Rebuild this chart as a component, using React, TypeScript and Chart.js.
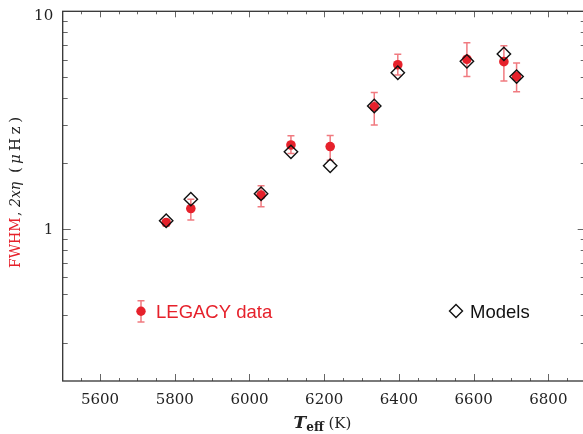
import React, { useEffect, useRef } from "react";
import { Chart, registerables } from "chart.js";

Chart.register(...registerables);

// ---- data ----
const temps = [5777, 5843, 6031, 6111, 6216, 6334, 6397, 6582, 6681, 6715];
const fwhm = [1.07, 1.24, 1.43, 2.43, 2.39, 3.64, 5.68, 6.02, 5.87, 5.01];
const errHigh = [1.1, 1.37, 1.58, 2.68, 2.69, 4.23, 6.35, 7.17, 6.95, 5.79];
const errLow = [1.03, 1.1, 1.265, 2.22, 2.07, 3.0, 5.1, 5.01, 4.78, 4.27];
const models = [1.09, 1.37, 1.45, 2.26, 1.95, 3.67, 5.22, 5.89, 6.37, 5.01];
const xTickLabels = [5600, 5800, 6000, 6200, 6400, 6600, 6800];
const yTickLabels = [1, 10];
const xRange = [5500, 6900];
const yRange = [0.2, 10];

const RED = "#e6212b";
const ERR = "rgba(230,33,43,0.6)";
const SERIF = '"DejaVu Serif"';

const CANVAS_W = 600;
const CANVAS_H = 434;

function drawSpread(ctx: CanvasRenderingContext2D, text: string, start: number, width: number) {
  const chars = Array.from(text);
  const widths = chars.map((c) => ctx.measureText(c).width);
  const total = widths.reduce((a, b) => a + b, 0);
  const gap = chars.length > 1 ? (width - total) / (chars.length - 1) : 0;
  let pos = start;
  chars.forEach((c, i) => {
    ctx.fillText(c, pos, 0);
    pos += widths[i] + gap;
  });
}

const customPlugin = {
  id: "customAxes",
  beforeDatasetsDraw(chart: any) {
    const { ctx, scales } = chart;
    const x = scales.x;
    const y = scales.y;
    ctx.save();
    ctx.strokeStyle = ERR;
    ctx.lineWidth = 1.5;
    ctx.beginPath();
    temps.forEach((t, i) => {
      const px = x.getPixelForValue(t);
      const top = y.getPixelForValue(errHigh[i]);
      const bot = y.getPixelForValue(errLow[i]);
      ctx.moveTo(px, top);
      ctx.lineTo(px, bot);
      ctx.moveTo(px - 3.5, top);
      ctx.lineTo(px + 3.5, top);
      ctx.moveTo(px - 3.5, bot);
      ctx.lineTo(px + 3.5, bot);
    });
    ctx.stroke();
    ctx.restore();
  },
  afterDraw(chart: any) {
    const { ctx, scales, chartArea } = chart;
    const x = scales.x;
    const y = scales.y;
    const L = chartArea.left;
    const R = chartArea.right;
    const T = chartArea.top;
    const B = chartArea.bottom;
    ctx.save();

    // ticks
    ctx.strokeStyle = "#666";
    ctx.lineWidth = 1;
    ctx.beginPath();
    for (let v = xRange[0] + 50; v < xRange[1]; v += 50) {
      const px = Math.round(x.getPixelForValue(v)) + 0.5;
      const major = v % 200 === 0;
      ctx.moveTo(px, B);
      ctx.lineTo(px, B - (major ? 7 : 3));
      ctx.moveTo(px, T);
      ctx.lineTo(px, T + (major ? 6 : 3));
    }
    for (const dec of [0.1, 1]) {
      for (let k = 1; k <= 9; k++) {
        const v = +(k * dec).toFixed(3);
        if (v <= yRange[0] || v >= yRange[1]) continue;
        const py = Math.round(y.getPixelForValue(v)) + 0.5;
        const major = k === 1;
        const len = major ? 8 : 5;
        ctx.moveTo(L, py);
        ctx.lineTo(L + len, py);
        ctx.moveTo(R, py);
        ctx.lineTo(R - len, py);
      }
    }
    ctx.stroke();

    // frame
    ctx.strokeStyle = "#333";
    ctx.lineWidth = 1.3;
    ctx.strokeRect(L, T, R - L, B - T);

    // tick labels
    ctx.fillStyle = "#222";
    ctx.font = `15px ${SERIF}`;
    ctx.textAlign = "center";
    ctx.textBaseline = "middle";
    xTickLabels.forEach((v) => {
      ctx.fillText(String(v), x.getPixelForValue(v), B + 19.5);
    });
    ctx.textAlign = "right";
    yTickLabels.forEach((v) => {
      const py = y.getPixelForValue(v);
      ctx.fillText(String(v), L - 9.5, Math.max(py + 1.5, T + 5));
    });

    // x title: T_eff (K)
    ctx.textAlign = "left";
    ctx.textBaseline = "alphabetic";
    const f1 = `bold italic 17px ${SERIF}`;
    const f2 = `bold 12px ${SERIF}`;
    const f3 = `15px ${SERIF}`;
    ctx.font = f1;
    const w1 = ctx.measureText("T").width;
    ctx.font = f2;
    const w2 = ctx.measureText("eff").width;
    ctx.font = f3;
    const w3 = ctx.measureText(" (K)").width;
    let sx = 322.5 - (w1 + w2 + w3) / 2;
    const base = 428;
    ctx.fillStyle = "#222";
    ctx.font = f1;
    ctx.fillText("T", sx, base);
    sx += w1;
    ctx.font = f2;
    ctx.fillText("eff", sx, base + 3);
    sx += w2;
    ctx.font = f3;
    ctx.fillText(" (K)", sx, base);

    // y title (rotated)
    ctx.save();
    ctx.translate(20, 268);
    ctx.rotate(-Math.PI / 2);
    ctx.font = `14px ${SERIF}`;
    ctx.fillStyle = RED;
    ctx.fillText("FWHM", 0, 0);
    ctx.fillStyle = "#222";
    ctx.fillText(",", 52, 0);
    ctx.font = `italic 14px ${SERIF}`;
    ctx.fillText("2x\u03b7", 61, 0);
    ctx.font = `15px ${SERIF}`;
    ctx.fillText("(", 95, 0);
    ctx.font = `italic 15px ${SERIF}`;
    ctx.fillText("\u03bc", 104, 0);
    ctx.font = `15px ${SERIF}`;
    drawSpread(ctx, "Hz)", 117, 34);
    ctx.restore();

    // legend
    const lx = 141;
    const ly = 311.3;
    ctx.strokeStyle = ERR;
    ctx.lineWidth = 1.5;
    ctx.beginPath();
    ctx.moveTo(lx, 300.7);
    ctx.lineTo(lx, 322);
    ctx.moveTo(lx - 3.5, 300.7);
    ctx.lineTo(lx + 3.5, 300.7);
    ctx.moveTo(lx - 3.5, 322);
    ctx.lineTo(lx + 3.5, 322);
    ctx.stroke();
    ctx.fillStyle = RED;
    ctx.beginPath();
    ctx.arc(lx, ly, 4.7, 0, Math.PI * 2);
    ctx.fill();
    ctx.font = '18.5px "Liberation Sans"';
    ctx.fillText("LEGACY data", 156, 317.5);

    const dx = 456;
    const dy = 311;
    const r = 6.5;
    ctx.strokeStyle = "#111";
    ctx.lineWidth = 1.4;
    ctx.beginPath();
    ctx.moveTo(dx, dy - r);
    ctx.lineTo(dx + r, dy);
    ctx.lineTo(dx, dy + r);
    ctx.lineTo(dx - r, dy);
    ctx.closePath();
    ctx.stroke();
    ctx.fillStyle = "#111";
    ctx.fillText("Models", 470, 317.5);

    ctx.restore();
  },
};

export default function App() {
  const ref = useRef<HTMLCanvasElement | null>(null);
  useEffect(() => {
    if (!ref.current) return;
    const chart = new Chart(ref.current, {
      type: "scatter",
      data: {
        datasets: [
          {
            label: "Models",
            data: temps.map((t, i) => ({ x: t, y: models[i] })),
            pointStyle: "rectRot",
            pointRadius: 6.7,
            borderColor: "#111",
            borderWidth: 1.4,
            backgroundColor: "rgba(0,0,0,0)",
            order: 0,
          },
          {
            label: "LEGACY data",
            data: temps.map((t, i) => ({ x: t, y: fwhm[i] })),
            pointStyle: "circle",
            pointRadius: 4.8,
            borderWidth: 0,
            backgroundColor: RED,
            order: 1,
          },
        ],
      },
      options: {
        responsive: false,
        animation: false,
        devicePixelRatio: 1,
        layout: { padding: { left: 62.7, top: 11.3, right: CANVAS_W - 585.7, bottom: CANVAS_H - 381 } },
        plugins: { legend: { display: false }, tooltip: { enabled: false } },
        scales: {
          x: { type: "linear", min: xRange[0], max: xRange[1], display: false },
          y: { type: "logarithmic", min: yRange[0], max: yRange[1], display: false },
        },
      },
      plugins: [customPlugin],
    } as any);
    return () => chart.destroy();
  }, []);
  return (
    <canvas
      ref={ref}
      width={CANVAS_W}
      height={CANVAS_H}
      style={{ position: "fixed", left: 0, top: 0, width: CANVAS_W, height: CANVAS_H, background: "#fff" }}
    />
  );
}
